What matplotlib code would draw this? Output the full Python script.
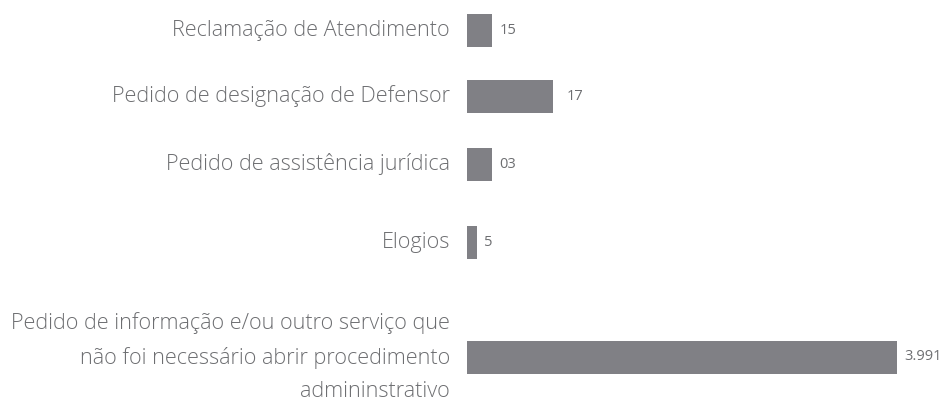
import matplotlib
matplotlib.use("Agg")
import matplotlib.pyplot as plt

categories = [
    "Reclamação de Atendimento",
    "Pedido de designação de Defensor",
    "Pedido de assistência jurídica",
    "Elogios",
    "Pedido de informação e/ou outro serviço que\nnão foi necessário abrir procedimento\nadmininstrativo",
]
value_labels = ["15", "17", "03", "5", "3.991"]
# bar lengths as drawn in the original (not proportional to the labels)
bar_lengths = [25, 86, 25, 10, 430]

# vertical centres of the rows (pixels from top)
y_pos = [30.5, 96.5, 164, 242.5, 357]
label_gap = [8, 14, 7, 7, 7]

bar_color = "#808085"
text_color = "#6d6e71"

fig = plt.figure(figsize=(9.46, 4.08), dpi=100)
ax = fig.add_axes([467 / 946, 0, 1 - 467 / 946, 1])
ax.set_xlim(0, 946 - 467)
ax.set_ylim(408, 0)
ax.axis("off")

ax.barh(y_pos, bar_lengths, height=33, color=bar_color, align="center")

for y, L, lab, gap, cat in zip(y_pos, bar_lengths, value_labels, label_gap, categories):
    ax.text(L + gap, y, lab, ha="left", va="center", fontsize=10.5,
            color=text_color, family="Open Sans")
    ax.text(-17, y, cat, ha="right", va="center", fontsize=15.6,
            color=text_color, family="Open Sans", fontweight="light",
            linespacing=1.78, multialignment="right", clip_on=False)

fig.savefig("out.png", dpi=100)
